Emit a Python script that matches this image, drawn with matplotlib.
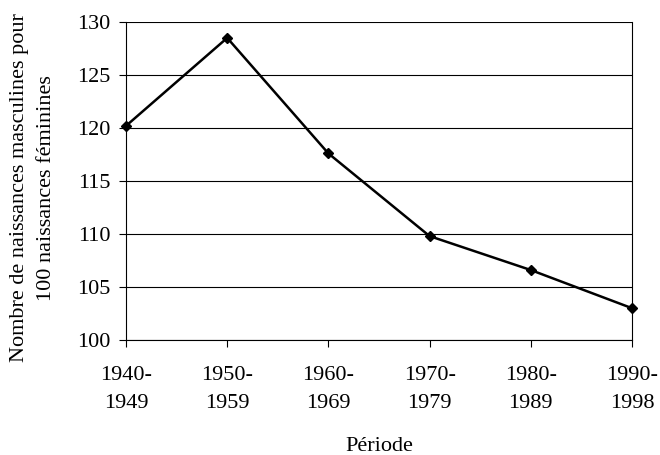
import matplotlib
matplotlib.use("Agg")
import matplotlib.pyplot as plt

periods = ["1940-\n1949", "1950-\n1959", "1960-\n1969", "1970-\n1979", "1980-\n1989", "1990-\n1998"]
ratio = [120.2, 128.5, 117.6, 109.8, 106.6, 103.0]
yticks = [100, 105, 110, 115, 120, 125, 130]

plt.rcParams['font.family'] = ['Liberation Serif', 'DejaVu Serif']
FS = 16

fig = plt.figure(figsize=(6.6, 4.55), dpi=100)
ax = fig.add_axes([126/660, 1-340/455, (632-126)/660, (340-22)/455])

x = list(range(len(periods)))
ax.plot(x, ratio, color='black', lw=1.8, marker='D', markersize=5, zorder=3, clip_on=False)

ax.set_xlim(0, len(periods)-1)
ax.set_ylim(100, 130)
ax.set_yticks(yticks)
ax.set_xticks(x)
ax.set_xticklabels(periods, fontsize=FS, linespacing=1.62)
ax.tick_params(axis='y', labelsize=FS, direction='out', length=5, width=0.8, pad=6)
ax.tick_params(axis='x', direction='out', length=5, width=0.8, pad=14)
ax.yaxis.grid(True, color='black', lw=0.8)
for s in ax.spines.values():
    s.set_linewidth(0.8)
    s.set_color('black')
ax.spines['top'].set_visible(False)

ax.set_ylabel("Nombre de naissances masculines pour\n100 naissances féminines", fontsize=FS, linespacing=1.58)
ax.yaxis.set_label_coords(-0.138, 0.478, transform=ax.transAxes)
ax.set_xlabel("Période", fontsize=FS, labelpad=17)

fig.savefig("out.png", dpi=100)
